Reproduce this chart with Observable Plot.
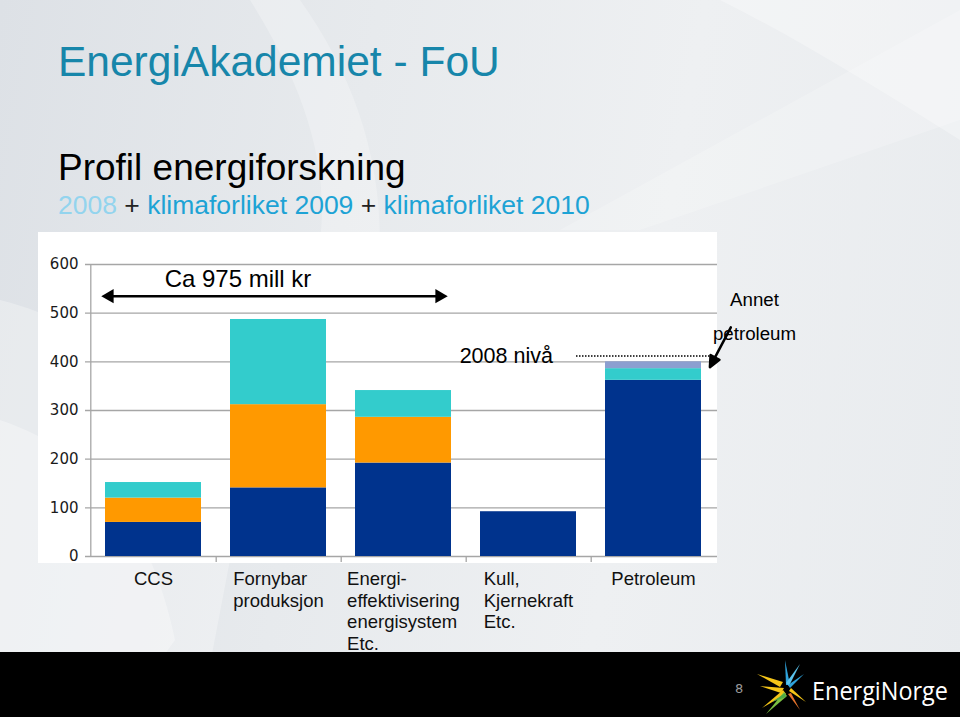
<!DOCTYPE html>
<html>
<head>
<meta charset="utf-8">
<script src="https://cdn.jsdelivr.net/npm/d3@7"></script>
<script src="https://cdn.jsdelivr.net/npm/@observablehq/plot@0.6"></script>
<style>
  html, body { margin: 0; padding: 0; }
  body {
    width: 960px; height: 717px; position: relative; overflow: hidden;
    font-family: "Liberation Sans", Arial, sans-serif;
    background: linear-gradient(100deg, #dde1e6 0%, #e7eaed 35%, #eef0f2 65%, #e8ebee 100%);
  }
  .swoosh { position: absolute; pointer-events: none; }
  #title { position: absolute; left: 58px; top: 41px; font-size: 42.5px; line-height: 1; color: #1786aa; white-space: nowrap; }
  #subtitle { position: absolute; left: 58px; top: 149px; font-size: 37px; line-height: 1; color: #000; white-space: nowrap; }
  #subsub { position: absolute; left: 58px; top: 192px; font-size: 26.5px; line-height: 1; color: #222; white-space: nowrap; }
  #subsub .y08 { color: #93d4ee; }
  #subsub .kl { color: #1da3d5; }
  #whitebox { position: absolute; left: 38px; top: 232px; width: 679px; height: 331px; background: #fff; }
  #chart { position: absolute; left: 38px; top: 232px; }
  #footer { position: absolute; left: 0; top: 652px; width: 960px; height: 65px; background: #000; }
  #footer svg { position: absolute; left: 0; top: 0; }
</style>
</head>
<body>
<svg class="swoosh" width="960" height="717" style="left:0;top:0">
  <path d="M0,300 C120,330 200,420 230,560 L200,717 L0,717 Z" fill="#ffffff" opacity="0.28"/>
  <path d="M0,420 C90,450 150,520 175,640 L120,717 L0,717 Z" fill="#ffffff" opacity="0.3"/>
  <path d="M250,0 C300,80 330,160 320,240 L380,240 C380,150 350,70 300,0 Z" fill="#ffffff" opacity="0.25"/>
  <path d="M720,0 L960,0 L960,140 C880,90 800,40 720,0 Z" fill="#ffffff" opacity="0.3"/>
  <path d="M560,230 L960,10 L960,120 L640,230 Z" fill="#ffffff" opacity="0.2"/>
</svg>

<div id="title">EnergiAkademiet - FoU</div>
<div id="subtitle">Profil energiforskning</div>
<div id="subsub"><span class="y08">2008</span> + <span class="kl">klimaforliket 2009</span> + <span class="kl">klimaforliket 2010</span></div>

<div id="whitebox"></div>
<div id="chart"></div>

<div id="footer">
  <svg width="960" height="65">
    <text x="735" y="41" font-family="DejaVu Sans, sans-serif" font-size="13" fill="#9a9a9a">8</text>
    <g>
      <polygon points="757,22 783,30 780,35" fill="#f5c518"/>
      <polygon points="760,34 784,36 781,41" fill="#f5c518"/>
      <polygon points="762,56 783,38 786,42" fill="#f5c518"/>
      <polygon points="785,8 790,33 786,33" fill="#2ea3dc"/>
      <polygon points="800,12 789,34 786,31" fill="#5bc4ee"/>
      <polygon points="804,22 790,36 788,33" fill="#2ea3dc"/>
      <polygon points="766,62 784,40 787,44" fill="#7cc142"/>
      <polygon points="772,50 785,41 786,45" fill="#4fa845"/>
      <polygon points="806,50 789,39 791,36" fill="#f5c518"/>
      <polygon points="800,58 788,42 791,41" fill="#e8742c"/>
    </g>
    <text x="812" y="48" font-family="'Open Sans', 'Noto Sans', sans-serif" font-size="25" fill="#ffffff" textLength="136" lengthAdjust="spacingAndGlyphs">EnergiNorge</text>
  </svg>
</div>

<script>
// ---------- data ----------
const categories = ["CCS", "Fornybar produksjon", "Energieffektivisering energisystem Etc.", "Kull, Kjernekraft Etc.", "Petroleum"];
const categoryLabels = ["CCS", "Fornybar\nproduksjon", "Energi-\neffektivisering\nenergisystem\nEtc.", "Kull,\nKjernekraft\nEtc.", "Petroleum"];
const series = ["2008", "Klimaforliket 2009", "Klimaforliket 2010", "Annet petroleum"];
const values2008 = [70, 141, 192, 92, 362];
const valuesKlima2009 = [50, 171, 94, 0, 0];
const valuesKlima2010 = [32, 175, 55, 0, 24];
const valuesAnnetPetroleum = [0, 0, 0, 0, 14];
const seriesColors = ["#00338d", "#ff9900", "#33cccc", "#8c9fd0"];
const yTicks = [0, 100, 200, 300, 400, 500, 600];
const yDomain = [0, 600];
const totalLabel = "Ca 975 mill kr";
const totalLabelLevel = 569;
const totalArrowLevel = 535;
const level2008 = 412;
const level2008Label = "2008 nivå";
const annetLabel = "Annet\npetroleum";
const annetLabelLevel = 503;
const annetArrowTip = 389;

// ---------- build table ----------
const seriesValues = [values2008, valuesKlima2009, valuesKlima2010, valuesAnnetPetroleum];
const rows = [];
series.forEach((s, i) => categories.forEach((c, j) => {
  if (seriesValues[i][j] > 0) rows.push({series: s, category: c, value: seriesValues[i][j]});
}));
const labelRows = categories.map((c, j) => ({category: c, label: categoryLabels[j]}));

// ---------- layout ----------
const W = 762, H = 425, ML = 52, MR = 83, MT = 32, MB = 101;
const step = (W - ML - MR) / categories.length;
const gridColor = "#a6a6a6";

// filled-head arrow shape for the vector mark
const filledArrow = {
  draw(context, l) {
    const head = 11, wing = 5;
    context.moveTo(0, 0);
    context.lineTo(0, -l + head);
    context.moveTo(0, -l);
    context.lineTo(-wing, -l + head);
    context.lineTo(wing, -l + head);
    context.closePath();
  }
};

const chart = Plot.plot({
  width: W, height: H,
  marginLeft: ML, marginRight: MR, marginTop: MT, marginBottom: MB,
  style: {background: "transparent", overflow: "visible", fontFamily: "'Liberation Sans', Arial, sans-serif"},
  x: {domain: categories, paddingInner: 0.23, paddingOuter: 0.115, axis: null},
  y: {domain: yDomain, axis: null},
  color: {domain: series, range: seriesColors},
  marks: [
    Plot.ruleY(yTicks, {stroke: gridColor, strokeWidth: 1.3, insetLeft: -5}),
    Plot.ruleX([categories[0]], {y1: yDomain[0], y2: yDomain[1], dx: -step / 2, stroke: gridColor, strokeWidth: 1.3}),
    Plot.ruleX(categories.slice(0, -1), {y1: 0, y2: 0, insetBottom: -6, dx: step / 2, stroke: gridColor, strokeWidth: 1.3}),
    Plot.axisY({ticks: yTicks, tickSize: 0, tickPadding: 12, fontSize: 15, fontFamily: "'DejaVu Sans', Verdana, sans-serif", fill: "#1a1a1a", label: null}),
    Plot.barY(rows, {x: "category", y: "value", fill: "series"}),
    // category labels (left-aligned blocks, centred afterwards)
    Plot.text(labelRows, {x: "category", y: () => 0, text: "label", lineAnchor: "top", textAnchor: "start", dy: 13, lineHeight: 1.17, fontSize: 18.5, fill: "#111111"}),
    // total arrow annotation
    Plot.ruleY([totalArrowLevel], {stroke: "#000", strokeWidth: 2.5, insetLeft: 15, insetRight: 274}),
    Plot.dot([totalArrowLevel], {y: d => d, frameAnchor: "left", dx: 19, symbol: "triangle", rotate: -90, r: 5.3, fill: "#000", stroke: null}),
    Plot.dot([totalArrowLevel], {y: d => d, frameAnchor: "left", dx: 349, symbol: "triangle", rotate: 90, r: 5.3, fill: "#000", stroke: null}),
    Plot.text([totalLabel], {x: () => categories[1], y: () => totalLabelLevel, text: d => d, dx: -40.5, fontSize: 24, fill: "#000"}),
    // 2008 level
    Plot.ruleY([level2008], {stroke: "#000", strokeWidth: 1.5, strokeDasharray: "1.5,1.5", insetLeft: 486, insetRight: 3}),
    Plot.text([level2008Label], {x: () => categories[3], y: () => level2008, text: d => d, textAnchor: "end", dx: 24.4, fontSize: 21.5, fill: "#000"}),
    // Annet petroleum
    Plot.text([annetLabel], {x: () => categories[4], y: () => annetLabelLevel, text: d => d, dx: 101, fontSize: 18.7, lineHeight: 1.82, fill: "#000"}),
    Plot.vector([annetArrowTip], {x: () => categories[4], y: d => d, dx: 56.4, length: 45, rotate: 207.7, anchor: "end", shape: filledArrow, stroke: "#000", fill: "#000", strokeWidth: 2.5})
  ]
});

document.getElementById("chart").appendChild(chart);

// centre each left-aligned category label block under its bar
chart.querySelectorAll('g[fill="#111111"] text').forEach(t => {
  const w = t.getBBox().width;
  const tr = t.getAttribute("transform") || "";
  t.setAttribute("transform", tr + ` translate(${-w / 2},0)`);
});
</script>
</body>
</html>
